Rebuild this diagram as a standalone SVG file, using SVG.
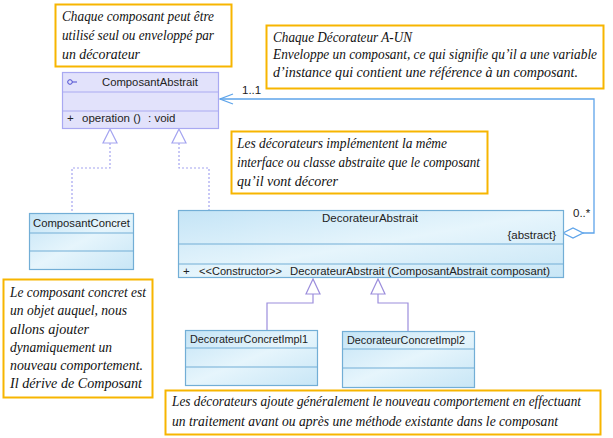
<svg xmlns="http://www.w3.org/2000/svg" width="613" height="438" viewBox="0 0 613 438">
<defs>
<linearGradient id="blueG" x1="0" y1="0" x2="1" y2="1">
<stop offset="0" stop-color="#c4e4f6"/>
<stop offset="0.5" stop-color="#e6f5fc"/>
<stop offset="1" stop-color="#c8e6f6"/>
</linearGradient>
</defs>
<style>
.note{fill:#ffffff;stroke:#f7b500;stroke-width:2}
.nt{font-family:"Liberation Serif","Times New Roman",serif;font-style:italic;font-size:14px;fill:#111}
.cls{fill:url(#blueG);stroke:#72aed6;stroke-width:1.2}
.cls2{fill:#e2e2fb;stroke:#a9a9f2;stroke-width:1.2}
.sep{stroke:#72aed6;stroke-width:1.2}
.sep2{stroke:#a9a9f2;stroke-width:1.2}
.t{font-family:"Liberation Sans",Arial,sans-serif;font-size:11.5px;fill:#222}
.assoc{fill:none;stroke:#5ea4ea;stroke-width:1.3}
.real{fill:none;stroke:#a4a4f0;stroke-width:1.2;stroke-dasharray:2,2}
.gen{fill:none;stroke:#9c8edc;stroke-width:1.2}
.tri{fill:#ffffff;stroke:#a4a4f0;stroke-width:1.2}
.tri2{fill:#ffffff;stroke:#9c8edc;stroke-width:1.2}
</style>

<g id="connectors">
<polyline class="assoc" points="220,99 594,99 594,233 583,233"/>
<polyline class="assoc" points="233,94 220,99 233,104"/>
<polygon points="563,233 573,228 583,233 573,238" fill="#ffffff" stroke="#5ea4ea" stroke-width="1.3"/>
<text class="t" x="242" y="94">1..1</text>
<text class="t" x="573" y="217">0..*</text>
<polyline class="real" points="110,143 110,168 72,168 72,213"/>
<polyline class="real" points="179,143 179,168 209,168 209,210"/>
<polygon class="tri" points="110,129 103,143 117,143"/>
<polygon class="tri" points="179,129 172,143 186,143"/>
<polyline class="gen" points="313,294 313,303 267,303 267,330"/>
<polyline class="gen" points="378,294 378,303 408,303 408,331"/>
<polygon class="tri2" points="313,279 306,294 320,294"/>
<polygon class="tri2" points="378,279 371,294 385,294"/>
</g>

<g id="note1">
<rect class="note" x="55.5" y="4.5" width="176" height="62"/>
<text class="nt" x="62" y="21" textLength="152" lengthAdjust="spacingAndGlyphs">Chaque composant peut être</text>
<text class="nt" x="62" y="40" textLength="152" lengthAdjust="spacingAndGlyphs">utilisé seul ou enveloppé par</text>
<text class="nt" x="62" y="59" textLength="78" lengthAdjust="spacingAndGlyphs">un décorateur</text>
</g>

<g id="note2">
<rect class="note" x="266.5" y="25.5" width="337" height="63"/>
<text class="nt" x="273" y="42" textLength="139" lengthAdjust="spacingAndGlyphs">Chaque Décorateur A-UN</text>
<text class="nt" x="273" y="59" textLength="324" lengthAdjust="spacingAndGlyphs">Enveloppe un composant, ce qui signifie qu’il a une variable</text>
<text class="nt" x="273" y="77" textLength="305" lengthAdjust="spacingAndGlyphs">d’instance qui contient une référence à un composant.</text>
</g>

<g id="note3">
<rect class="note" x="231.5" y="131.5" width="256" height="62"/>
<text class="nt" x="237" y="148" textLength="210" lengthAdjust="spacingAndGlyphs">Les décorateurs implémentent la même</text>
<text class="nt" x="237" y="167" textLength="243" lengthAdjust="spacingAndGlyphs">interface ou classe abstraite que le composant</text>
<text class="nt" x="237" y="186" textLength="101" lengthAdjust="spacingAndGlyphs">qu’il vont décorer</text>
</g>

<g id="note4">
<rect class="note" x="3.5" y="279.5" width="149" height="118"/>
<text class="nt" x="10" y="297" textLength="136" lengthAdjust="spacingAndGlyphs">Le composant concret est</text>
<text class="nt" x="10" y="315" textLength="117" lengthAdjust="spacingAndGlyphs">un objet auquel, nous</text>
<text class="nt" x="10" y="334" textLength="79" lengthAdjust="spacingAndGlyphs">allons ajouter</text>
<text class="nt" x="10" y="352" textLength="102" lengthAdjust="spacingAndGlyphs">dynamiquement un</text>
<text class="nt" x="10" y="370" textLength="133" lengthAdjust="spacingAndGlyphs">nouveau comportement.</text>
<text class="nt" x="10" y="388" textLength="132" lengthAdjust="spacingAndGlyphs">Il dérive de Composant</text>
</g>

<g id="note5">
<rect class="note" x="165.5" y="390.5" width="435" height="44"/>
<text class="nt" x="172" y="406" textLength="409" lengthAdjust="spacingAndGlyphs">Les décorateurs ajoute généralement le nouveau comportement en effectuant</text>
<text class="nt" x="172" y="426" textLength="386" lengthAdjust="spacingAndGlyphs">un traitement avant ou après une méthode existante dans le composant</text>
</g>

<g id="ComposantAbstrait">
<rect class="cls2" x="62.5" y="72.5" width="156" height="56"/>
<line class="sep2" x1="62.5" y1="92" x2="218.5" y2="92"/>
<line class="sep2" x1="62.5" y1="111" x2="218.5" y2="111"/>
<circle cx="70" cy="82" r="2.3" fill="none" stroke="#4a4ad0" stroke-width="1"/>
<line x1="72.3" y1="82" x2="77" y2="82" stroke="#4a4ad0" stroke-width="1"/>
<text class="t" x="102" y="86" textLength="96" lengthAdjust="spacingAndGlyphs">ComposantAbstrait</text>
<text class="t" x="67" y="122">+</text>
<text class="t" x="82" y="122">operation ()</text>
<text class="t" x="148" y="122">: void</text>
</g>

<g id="ComposantConcret">
<rect class="cls" x="29.5" y="213.5" width="104" height="56"/>
<line class="sep" x1="29.5" y1="233" x2="133.5" y2="233"/>
<line class="sep" x1="29.5" y1="251" x2="133.5" y2="251"/>
<text class="t" x="33" y="227" textLength="97" lengthAdjust="spacingAndGlyphs">ComposantConcret</text>
</g>

<g id="DecorateurAbstrait">
<rect class="cls" x="178.5" y="210.5" width="385" height="67"/>
<line class="sep" x1="178.5" y1="244" x2="563.5" y2="244"/>
<line class="sep" x1="178.5" y1="264" x2="563.5" y2="264"/>
<text class="t" x="370" y="222" text-anchor="middle">DecorateurAbstrait</text>
<text class="t" x="556" y="239" text-anchor="end">{abstract}</text>
<text class="t" x="183" y="275">+</text>
<text class="t" x="199" y="275" textLength="83" lengthAdjust="spacingAndGlyphs">&lt;&lt;Constructor&gt;&gt;</text>
<text class="t" x="290" y="275" textLength="260" lengthAdjust="spacingAndGlyphs">DecorateurAbstrait (ComposantAbstrait composant)</text>
</g>

<g id="DecorateurConcretImpl1">
<rect class="cls" x="185.5" y="330.5" width="132" height="55"/>
<line class="sep" x1="185.5" y1="348" x2="317.5" y2="348"/>
<line class="sep" x1="185.5" y1="367" x2="317.5" y2="367"/>
<text class="t" x="190" y="343" textLength="118" lengthAdjust="spacingAndGlyphs">DecorateurConcretImpl1</text>
</g>

<g id="DecorateurConcretImpl2">
<rect class="cls" x="342.5" y="331.5" width="132" height="56"/>
<line class="sep" x1="342.5" y1="349" x2="474.5" y2="349"/>
<line class="sep" x1="342.5" y1="368" x2="474.5" y2="368"/>
<text class="t" x="347" y="344" textLength="118" lengthAdjust="spacingAndGlyphs">DecorateurConcretImpl2</text>
</g>
</svg>
